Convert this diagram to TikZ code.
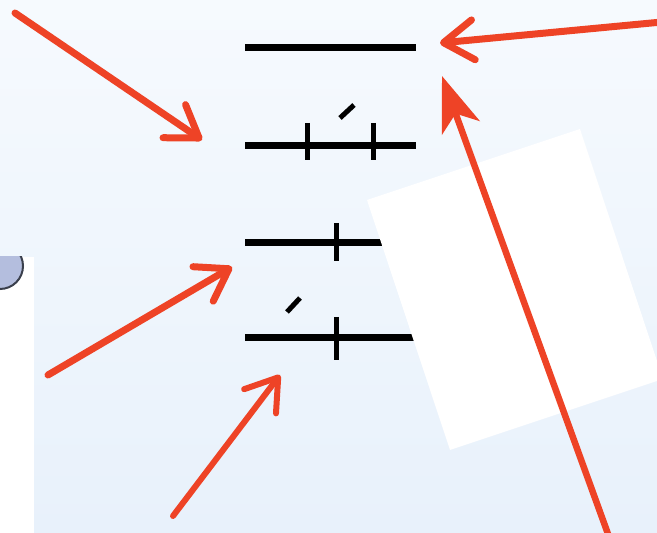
\documentclass[tikz,border=0pt]{standalone}
\usepackage{xcolor}
\usepackage{tikz}
\usetikzlibrary{arrows.meta}
\usetikzlibrary{positioning}

\definecolor{arrred}{RGB}{238,67,38}
\definecolor{bgtop}{RGB}{246,250,254}
\definecolor{bgbot}{RGB}{232,241,251}
\definecolor{ballfill}{RGB}{180,190,222}
\definecolor{ballline}{RGB}{58,63,76}

\tikzset{
	rod/.style={draw=black, line width=0.14cm},
	notch/.style={draw=black, line width=0.1cm},
	flick/.style={draw=black, line width=0.1cm},
	arr/.style={color=arrred, line width=0.14cm, line cap=round, -{Straight Barb[round, length=0.6cm, width=0.8cm]}},
	longarr/.style={color=arrred, line width=0.13cm, -{Stealth[length=1.1cm, width=0.8cm, inset=0.3cm]}},
}

\begin{document}
\begin{tikzpicture}[x=0.02cm, y=-0.02cm]
	\useasboundingbox (0,0) rectangle (657,533);
	\clip (0,0) rectangle (657,533);
	\shade[top color=bgtop, bottom color=bgbot] (0,0) rectangle (657,533);

	\fill[white] (0,257) rectangle (34,533);
	\begin{scope}
		\clip (0,257) rectangle (34,533);
		\draw[fill=ballfill, draw=ballline, line width=0.04cm] (0,266) circle (23);
	\end{scope}

	\coordinate (l1w) at (245,48);
	\coordinate (l1e) at (416,48);
	\coordinate (l2w) at (245,146);
	\coordinate (l2e) at (416,146);
	\coordinate (l3w) at (245,243);
	\coordinate (l3e) at (416,243);
	\coordinate (l4w) at (245,338);
	\coordinate (l4e) at (416,338);

	\draw[rod] (l1w) -- (l1e);
	\draw[rod] (l2w) -- (l2e);
	\draw[notch] (307,123) -- (307,160);
	\draw[notch] (373,123) -- (373,160);
	\draw[flick] (340,118) -- (354,105);
	\draw[rod] (l3w) -- (l3e);
	\draw[notch] (336,223) -- (336,261);
	\draw[rod] (l4w) -- (l4e);
	\draw[notch] (336,317) -- (336,360);
	\draw[flick] (287,312) -- (300,298);

	\fill[white] (367,200) -- (580,129) -- (663,379) -- (450,450) -- cycle;

	\coordinate (a1) at (15,13);
	\coordinate (h1) at (202,140);
	\coordinate (a2) at (662,22);
	\coordinate (h2) at (440,43);
	\coordinate (a3) at (48,375);
	\coordinate (h3) at (232,267);
	\coordinate (a4) at (173,516);
	\coordinate (h4) at (280,375);
	\coordinate (a5) at (612,545);
	\coordinate (h5) at (442,76);

	\draw[arr] (a1) -- (h1);
	\draw[arr] (a2) -- (h2);
	\draw[arr] (a3) -- (h3);
	\draw[arr, line width=0.12cm] (a4) -- (h4);
	\draw[longarr] (a5) -- (h5);
\end{tikzpicture}
\end{document}
